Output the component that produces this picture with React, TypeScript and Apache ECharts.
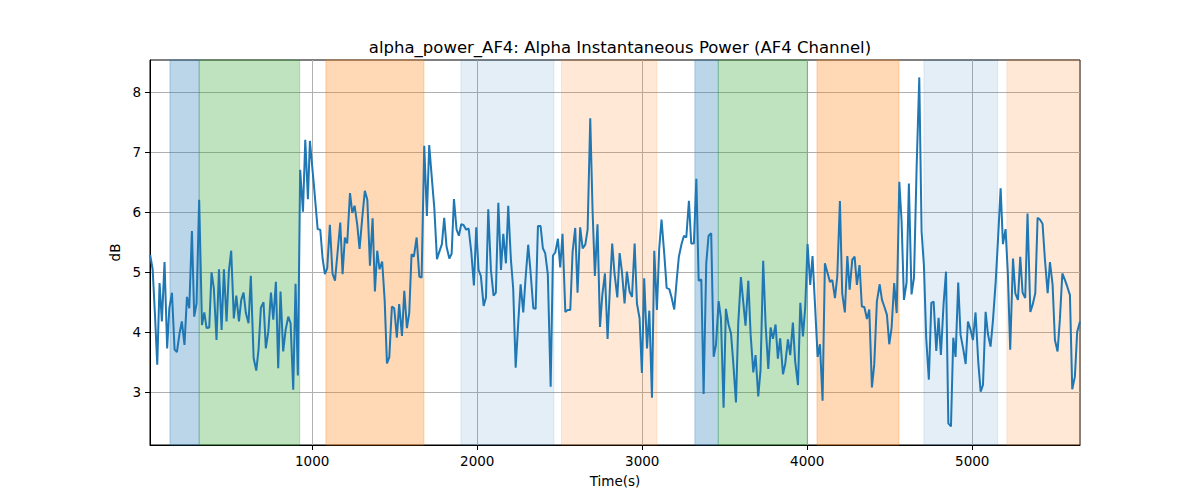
import { useEffect, useRef } from 'react';
import * as echarts from 'echarts';

const TITLE = 'alpha_power_AF4: Alpha Instantaneous Power (AF4 Channel)';
const X_LABEL = 'Time(s)';
const Y_LABEL = 'dB';
const X_TICKS = [1000, 2000, 3000, 4000, 5000];
const Y_TICKS = [3, 4, 5, 6, 7, 8];
const X_MIN = 17;
const X_MAX = 5653;
const Y_MIN = 2.12;
const Y_MAX = 8.54;

// [time (s), alpha power (dB)]
const samples: [number, number][] = [
  [18, 5.29], [33, 5.05], [47, 4.3], [61, 3.46], [75, 4.82], [89, 4.18], [105, 5.17], [121, 3.73], [134, 4.4], [150, 4.66],
  [166, 3.71], [180, 3.67], [196, 3.98], [210, 4.18], [226, 3.79], [241, 4.59], [255, 4.4], [271, 5.69], [285, 4.26], [299, 4.48],
  [315, 6.21], [332, 4.12], [346, 4.33], [360, 4.07], [376, 4.08], [390, 5.0], [404, 4.73], [420, 3.87], [435, 5.05], [451, 4.04],
  [465, 5.05], [481, 4.18], [495, 5.02], [509, 5.36], [525, 4.23], [540, 4.61], [556, 4.18], [570, 4.54], [584, 4.66], [598, 4.32],
  [614, 4.15], [628, 4.94], [645, 3.57], [661, 3.36], [675, 3.72], [689, 4.41], [705, 4.5], [719, 3.73], [734, 4.01], [750, 4.66],
  [764, 4.21], [780, 4.84], [794, 3.4], [808, 4.68], [824, 3.68], [839, 4.04], [855, 4.26], [869, 4.15], [885, 3.04], [899, 4.81],
  [913, 3.28], [927, 6.71], [944, 6.01], [958, 7.21], [974, 6.22], [986, 7.19],
  [1012, 6.4], [1033, 5.72], [1049, 5.71], [1063, 5.23], [1077, 4.97], [1091, 5.07], [1107, 5.79], [1123, 4.98], [1138, 4.86], [1154, 5.34],
  [1170, 5.83], [1184, 4.97], [1198, 5.58], [1212, 5.48], [1229, 6.32], [1243, 5.99], [1257, 6.11], [1273, 5.79], [1287, 5.39], [1303, 5.9],
  [1319, 6.36], [1334, 6.21], [1350, 5.11], [1366, 5.9], [1380, 4.68], [1394, 5.36], [1408, 5.05], [1424, 5.18], [1439, 4.54], [1453, 3.48],
  [1467, 3.58], [1483, 4.43], [1497, 4.4], [1513, 3.91], [1527, 4.47], [1544, 3.94], [1558, 4.69], [1574, 4.07], [1588, 4.32], [1602, 5.3],
  [1616, 5.26], [1633, 5.58], [1649, 4.93], [1663, 4.91], [1679, 7.11], [1695, 5.94], [1709, 7.12], [1725, 6.57], [1740, 6.07], [1756, 5.22],
  [1770, 5.34], [1786, 5.47], [1800, 5.91], [1814, 5.43], [1831, 5.23], [1845, 5.31], [1859, 6.22], [1875, 5.71], [1889, 5.61], [1903, 5.8],
  [1917, 5.79], [1933, 5.71], [1948, 5.73],
  [1964, 5.34], [1980, 4.78], [1994, 5.75], [2008, 5.04], [2022, 4.94], [2039, 4.44], [2053, 4.58], [2067, 6.05], [2083, 5.04], [2099, 4.61],
  [2113, 4.66], [2128, 6.16], [2144, 5.04], [2158, 5.64], [2174, 5.15], [2188, 6.11], [2204, 5.22], [2218, 4.73], [2233, 3.41], [2249, 4.18],
  [2263, 4.8], [2279, 4.33], [2293, 4.9], [2309, 5.46], [2323, 5.01], [2340, 4.4], [2354, 4.39], [2368, 5.77], [2384, 5.77], [2398, 5.4],
  [2412, 5.32], [2428, 4.96], [2445, 3.09], [2459, 5.28], [2473, 5.33], [2489, 5.56], [2503, 5.08], [2517, 5.64], [2534, 4.34], [2548, 4.37],
  [2564, 4.37], [2578, 5.34], [2594, 5.74], [2608, 4.66], [2624, 5.75], [2639, 5.4], [2655, 5.46], [2669, 5.71], [2685, 7.57], [2699, 6.04],
  [2713, 4.94], [2729, 5.8], [2744, 4.09], [2758, 4.62], [2774, 4.98], [2790, 3.89], [2804, 4.73], [2818, 5.48], [2832, 4.98], [2849, 4.58],
  [2863, 5.32], [2877, 5.01], [2893, 4.48], [2907, 5.01], [2923, 4.68],
  [2938, 4.59], [2954, 5.48], [2968, 4.48], [2984, 4.23], [2998, 3.32], [3012, 4.9], [3029, 3.73], [3043, 4.36], [3059, 2.91], [3073, 5.36],
  [3089, 4.37], [3103, 5.4], [3117, 5.88], [3134, 5.29], [3148, 4.74], [3164, 4.72], [3178, 4.58], [3194, 4.38], [3208, 4.84], [3222, 5.26],
  [3239, 5.48], [3253, 5.61], [3267, 5.58], [3283, 6.19], [3297, 5.48], [3313, 5.48], [3328, 6.56], [3342, 4.86], [3358, 4.88], [3372, 2.97],
  [3388, 5.15], [3402, 5.61], [3418, 5.65], [3433, 3.59], [3447, 3.79], [3463, 4.52], [3477, 4.23], [3493, 2.74], [3507, 4.39], [3523, 4.13],
  [3538, 3.98], [3552, 3.48], [3568, 2.83], [3582, 4.15], [3598, 4.92], [3612, 4.51], [3626, 4.11], [3643, 4.86], [3657, 3.96], [3673, 3.33],
  [3687, 3.62], [3703, 2.93], [3717, 3.37], [3733, 5.19], [3748, 4.11], [3764, 3.39], [3778, 4.08], [3792, 3.89], [3808, 4.13], [3822, 3.56],
  [3836, 3.9], [3853, 3.3], [3867, 3.48], [3883, 3.88], [3897, 3.62],
  [3913, 4.16], [3927, 3.51], [3944, 3.12], [3958, 4.49], [3974, 3.93], [3988, 4.43], [4002, 5.47], [4018, 4.79], [4032, 5.27], [4047, 4.46],
  [4063, 3.59], [4077, 3.8], [4093, 2.86], [4107, 5.15], [4121, 5.01], [4138, 4.84], [4152, 4.87], [4168, 4.57], [4182, 4.93], [4198, 6.19],
  [4212, 4.65], [4228, 4.33], [4243, 5.27], [4257, 4.71], [4273, 5.21], [4287, 5.26], [4301, 4.79], [4317, 5.12], [4331, 4.43], [4346, 4.42],
  [4362, 4.22], [4376, 4.38], [4392, 3.08], [4406, 3.46], [4422, 4.51], [4439, 4.8], [4453, 4.54], [4467, 4.43], [4483, 4.29], [4497, 3.8],
  [4511, 4.07], [4527, 4.82], [4542, 4.32], [4558, 6.51], [4572, 5.84], [4586, 4.54], [4602, 4.83], [4616, 6.48], [4632, 4.63], [4647, 4.91],
  [4663, 6.76], [4679, 8.25], [4693, 5.68], [4707, 5.12], [4721, 3.9], [4737, 3.21], [4752, 4.49], [4766, 4.51], [4782, 3.69], [4796, 4.24],
  [4810, 3.62], [4826, 4.46], [4841, 5.01], [4855, 2.48],
  [4871, 2.43], [4885, 3.91], [4899, 3.59], [4915, 4.83], [4929, 3.96], [4946, 3.71], [4960, 3.47], [4974, 4.18], [4990, 4.04], [5004, 3.87],
  [5020, 4.33], [5037, 3.48], [5051, 3.01], [5065, 3.12], [5081, 4.34], [5095, 3.97], [5111, 3.76], [5125, 4.18], [5142, 4.84], [5156, 5.54],
  [5172, 6.4], [5186, 5.47], [5202, 5.72], [5216, 4.96], [5230, 3.71], [5247, 5.23], [5261, 4.65], [5277, 4.54], [5291, 5.26], [5305, 4.66],
  [5321, 4.57], [5335, 5.98], [5352, 4.34], [5366, 4.46], [5382, 4.65], [5396, 5.91], [5410, 5.88], [5426, 5.81], [5440, 5.23], [5457, 4.65],
  [5471, 5.17], [5487, 4.79], [5501, 3.87], [5517, 3.68], [5531, 4.21], [5546, 4.98], [5562, 4.87], [5576, 4.76], [5592, 4.62], [5606, 3.05],
  [5622, 3.26], [5636, 4.01], [5653, 4.18],
];

// shaded phases
const bandStarts = [138, 315, 1083, 1901, 2511, 3319, 3461, 4059, 4707, 5210];
const bandEnds = [315, 924, 1677, 2465, 3089, 3461, 4000, 4556, 5154, 5653];
const bandKinds = ['blue', 'green', 'orange', 'paleBlue', 'paleOrange', 'blue', 'green', 'orange', 'paleBlue', 'paleOrange'];

const BAND_COLORS: Record<string, string> = {
  blue: 'rgba(31,119,180,0.3)',
  green: 'rgba(44,160,44,0.3)',
  orange: 'rgba(255,127,14,0.3)',
  paleBlue: 'rgba(31,119,180,0.12)',
  paleOrange: 'rgba(255,127,14,0.17)',
};

const FONT = 'DejaVu Sans';

export default function App() {
  const ref = useRef<HTMLDivElement>(null);
  useEffect(() => {
    if (!ref.current) return;
    const chart = echarts.init(ref.current, undefined, { renderer: 'svg' });
    const bands = bandStarts.map((s, i) => [
      {
        xAxis: s,
        itemStyle: { color: BAND_COLORS[bandKinds[i]], borderColor: BAND_COLORS[bandKinds[i]], borderWidth: 1 },
      },
      { xAxis: bandEnds[i] },
    ]);
    chart.setOption({
      animation: false,
      backgroundColor: '#ffffff',
      textStyle: { fontFamily: FONT },
      title: {
        text: TITLE,
        left: 615,
        top: 34,
        textAlign: 'center',
        textStyle: { fontFamily: FONT, fontSize: 16.5, fontWeight: 'normal', color: '#000' },
      },
      grid: {
        left: 150,
        right: 120,
        top: 60,
        bottom: 55,
        show: true,
        borderColor: '#000',
        borderWidth: 1,
        backgroundColor: 'transparent',
      },
      xAxis: {
        type: 'value',
        min: X_MIN,
        max: X_MAX,
        name: X_LABEL,
        nameLocation: 'middle',
        nameGap: 29,
        nameTextStyle: { fontFamily: FONT, fontSize: 13.5, color: '#000' },
        axisLine: { show: true, onZero: false, lineStyle: { color: '#000', width: 1 } },
        axisTick: { show: true, inside: false, length: 5, customValues: X_TICKS, lineStyle: { color: '#000' } },
        axisLabel: {
          customValues: X_TICKS,
          formatter: (v: number) => String(v),
          margin: 9,
          fontFamily: FONT,
          fontSize: 13.5,
          color: '#000',
        },
        splitLine: { show: true, lineStyle: { color: '#b0b0b0', width: 1 } },
      },
      yAxis: {
        type: 'value',
        min: Y_MIN,
        max: Y_MAX,
        name: Y_LABEL,
        nameLocation: 'middle',
        nameGap: 25,
        nameRotate: 90,
        nameTextStyle: { fontFamily: FONT, fontSize: 13.5, color: '#000' },
        axisLine: { show: true, onZero: false, lineStyle: { color: '#000', width: 1 } },
        axisTick: { show: true, inside: false, length: 5, customValues: Y_TICKS, lineStyle: { color: '#000' } },
        axisLabel: {
          customValues: Y_TICKS,
          formatter: (v: number) => String(v),
          margin: 9,
          fontFamily: FONT,
          fontSize: 13.5,
          color: '#000',
        },
        splitLine: { show: true, lineStyle: { color: '#b0b0b0', width: 1 } },
      },
      series: [
        {
          type: 'line',
          name: 'bands',
          data: [],
          z: -1,
          silent: true,
          markArea: { silent: true, data: bands },
        },
        {
          type: 'line',
          name: 'alpha_power_AF4',
          data: samples,
          z: 3,
          symbol: 'none',
          showSymbol: false,
          lineStyle: { color: '#1f77b4', width: 2 },
          itemStyle: { color: '#1f77b4' },
          clip: true,
        },
      ],
    });
    return () => chart.dispose();
  }, []);
  return <div ref={ref} style={{ position: 'fixed', left: 0, top: 0, width: 1200, height: 500 }} />;
}
